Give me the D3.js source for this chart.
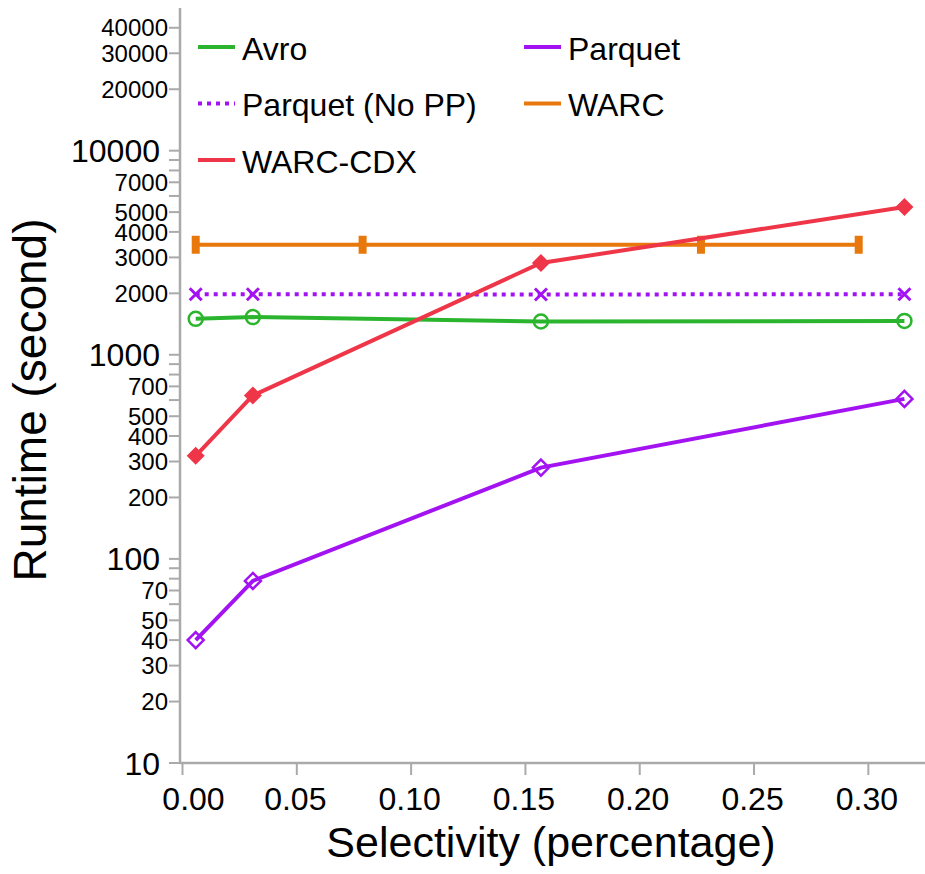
<!DOCTYPE html>
<html>
<head>
<meta charset="utf-8">
<script src="https://cdn.jsdelivr.net/npm/d3@7"></script>
<style>
  body { margin: 0; background: #fff; }
  svg { display: block; font-family: "Liberation Sans", Arial, Helvetica, sans-serif; }
</style>
</head>
<body>
<svg id="chart" width="925" height="874"></svg>
<script>
// selectivity (x) for most series; WARC was measured at other points
var selectivity = [0.006, 0.031, 0.157, 0.316];
var warcX = [0.006, 0.079, 0.227, 0.296];

var avro = [1500, 1530, 1455, 1465];
var parquet = [40, 78, 280, 608];
var parquetNoPP = [1980, 1980, 1975, 1980];
var warc = [3460, 3460, 3460, 3460];
var warcCdx = [320, 632, 2815, 5300];

var seriesNames = ["Avro", "Parquet", "Parquet (No PP)", "WARC", "WARC-CDX"];
var xTicks = [0, 0.05, 0.10, 0.15, 0.20, 0.25, 0.30];
var yMajor = [10, 100, 1000, 10000];
var yLabelled = [20, 30, 40, 50, 70, 200, 300, 400, 500, 700, 2000, 3000, 4000, 5000, 7000, 20000, 30000, 40000];
var yUnlabelled = [60, 80, 90, 600, 800, 900, 6000, 8000, 9000];

var series = [
    {name: seriesNames[0], xs: selectivity, ys: avro, color: "#2bb52f", marker: "circle"},
    {name: seriesNames[1], xs: selectivity, ys: parquet, color: "#a313f2", marker: "diamondOpen"},
    {name: seriesNames[2], xs: selectivity, ys: parquetNoPP, color: "#a313f2", marker: "cross", dash: "4,5"},
    {name: seriesNames[3], xs: warcX, ys: warc, color: "#e8780c", marker: "bar"},
    {name: seriesNames[4], xs: selectivity, ys: warcCdx, color: "#ef3648", marker: "diamond"}
];

var svg = d3.select("#chart");
var axisColor = "#aaaaaa";

var x = d3.scaleLinear().domain([0, 0.325]).range([182, 925]);
var y = d3.scaleLog().domain([10, 50000]).range([763, 8]);
var axisX = 180;

// x axis
var gx = svg.append("g").attr("transform", "translate(0,763)")
    .call(d3.axisBottom(x).tickValues(xTicks).tickFormat(d3.format(".2f")).tickSize(12).tickSizeOuter(0).tickPadding(12));
gx.select(".domain").attr("d", "M" + axisX + ",0H925").attr("stroke", axisColor).attr("stroke-width", 2.5);
gx.selectAll(".tick line").attr("stroke", axisColor).attr("stroke-width", 2);
gx.selectAll(".tick text").attr("font-size", 32).attr("font-family", null).attr("fill", "#000")
    .attr("dx", function (d) { return d === 0 ? 11 : -1.5; });

// y axis
var gy = svg.append("g").attr("transform", "translate(" + axisX + ",0)");
gy.append("line").attr("y1", y(50000)).attr("y2", y(10)).attr("stroke", axisColor).attr("stroke-width", 2.5);
var allTicks = yMajor.concat(yLabelled).concat(yUnlabelled);
gy.selectAll(".ytick").data(allTicks).enter().append("line")
    .attr("x1", -11).attr("x2", 0)
    .attr("y1", function (d) { return y(d); })
    .attr("y2", function (d) { return y(d); })
    .attr("stroke", axisColor).attr("stroke-width", 2);
gy.selectAll(".ymaj").data(yMajor).enter().append("text")
    .attr("x", -20).attr("y", function (d) { return y(d); })
    .attr("dy", "0.36em").attr("text-anchor", "end").attr("font-size", 32)
    .text(function (d) { return d; });
gy.selectAll(".ymin").data(yLabelled).enter().append("text")
    .attr("x", -12).attr("y", function (d) { return y(d); })
    .attr("dy", "0.36em").attr("text-anchor", "end").attr("font-size", 24)
    .text(function (d) { return d; });

// axis titles
svg.append("text").attr("x", 551).attr("y", 857).attr("text-anchor", "middle")
    .attr("font-size", 43).text("Selectivity (percentage)");
svg.append("text").attr("transform", "translate(46,400) rotate(-90)").attr("text-anchor", "middle")
    .attr("font-size", 46).text("Runtime (second)");

// series
var line = d3.line().x(function (d) { return x(d[0]); }).y(function (d) { return y(d[1]); });

series.forEach(function (s) {
    var pts = s.xs.map(function (v, i) { return [v, s.ys[i]]; });
    svg.append("path").datum(pts).attr("d", line)
        .attr("fill", "none").attr("stroke", s.color).attr("stroke-width", 4)
        .attr("stroke-dasharray", s.dash || null);
    var g = svg.append("g");
    var m = g.selectAll("g").data(pts).enter().append("g")
        .attr("transform", function (d) { return "translate(" + x(d[0]) + "," + y(d[1]) + ")"; });
    if (s.marker === "circle") {
        m.append("circle").attr("r", 7).attr("fill", "none").attr("stroke", s.color).attr("stroke-width", 2.5);
    } else if (s.marker === "diamondOpen") {
        m.append("path").attr("d", "M0,-8L8,0L0,8L-8,0Z").attr("fill", "none").attr("stroke", s.color).attr("stroke-width", 2.5);
    } else if (s.marker === "diamond") {
        m.append("path").attr("d", "M0,-9L9,0L0,9L-9,0Z").attr("fill", s.color);
    } else if (s.marker === "cross") {
        m.append("path").attr("d", "M-6,-6L6,6M-6,6L6,-6").attr("stroke", s.color).attr("stroke-width", 3);
    } else if (s.marker === "bar") {
        m.append("rect").attr("x", -4).attr("y", -9).attr("width", 8).attr("height", 18).attr("fill", s.color);
    }
});

// legend
var legend = svg.append("g");
var items = legend.selectAll("g").data(series).enter().append("g")
    .attr("transform", function (d, i) {
        return "translate(" + (i % 2 === 0 ? 198 : 524) + "," + (47 + Math.floor(i / 2) * 56.5) + ")";
    });
items.append("line").attr("x1", 0).attr("x2", 37)
    .attr("stroke", function (d) { return d.color; }).attr("stroke-width", 4)
    .attr("stroke-dasharray", function (d) { return d.dash || null; });
items.append("text").attr("x", 44).attr("y", 12.5).attr("font-size", 32)
    .text(function (d) { return d.name; });
</script>
</body>
</html>
